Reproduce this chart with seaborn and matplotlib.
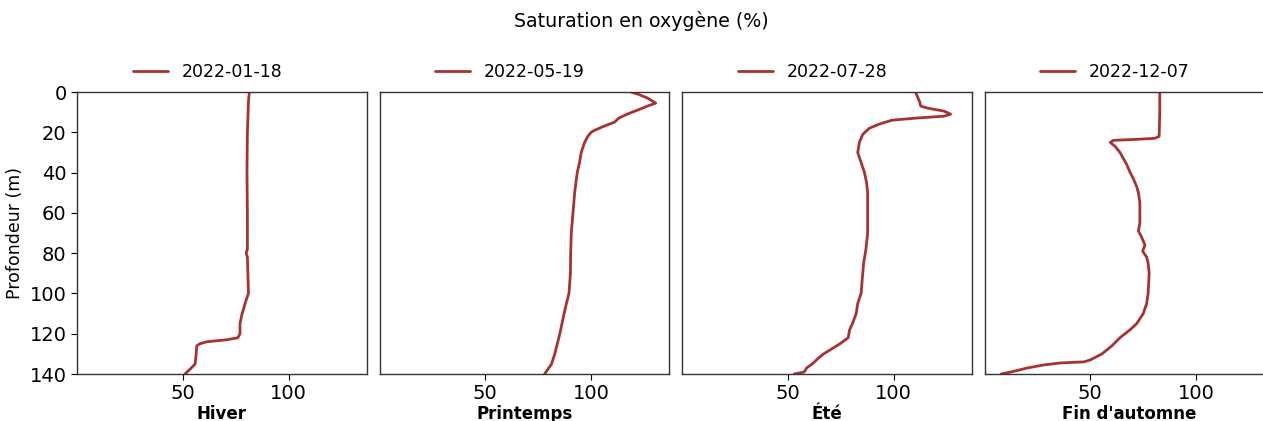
import numpy as np
import pandas as pd
import matplotlib
matplotlib.use("Agg")
import matplotlib.pyplot as plt
import seaborn as sns

seasons = ["Hiver", "Printemps", "Été", "Fin d'automne"]
dates = ["2022-01-18", "2022-05-19", "2022-07-28", "2022-12-07"]

# winter profile
depth_hiver = [0, 5, 20, 40, 60, 78, 80, 82, 100, 103, 105, 108, 110, 115, 120, 122, 123, 124, 125, 126, 130, 135, 137, 140]
sat_hiver = [81.4, 81, 80.5, 80.3, 80.5, 80.5, 79.9, 80.5, 81, 80, 79.4, 78.6, 78, 77, 77, 76, 70.8, 61.3, 58, 56.6, 56.3, 55.8, 54, 51]

# spring profile
depth_printemps = [0, 1, 3, 5.5, 7, 9, 11, 13, 15, 17, 19, 20, 22, 25, 30, 35, 40, 50, 60, 70, 80, 90, 100, 105, 110, 120, 125, 130, 135, 140]
sat_printemps = [118.8, 121.9, 126.6, 130.5, 126.6, 121.9, 117, 113, 111, 106, 101.6, 100, 98.4, 96.9, 95.3, 94.5, 93.4, 92.2, 91.4, 90.6, 90.3, 90.2, 89.5, 88.3, 87.2, 85.2, 84, 82.8, 81.3, 78]

# summer profile
depth_ete = [0, 5, 7, 8, 9.5, 11, 12, 13, 14, 16, 18, 21, 25, 30, 35, 40, 45, 50, 60, 70, 78, 85, 90, 100, 105, 110, 115, 118, 122, 125, 128, 130, 132, 135, 137, 139, 140]
sat_ete = [110.3, 112.3, 112.8, 116, 123.8, 126.9, 123.8, 110, 99.2, 93, 88.5, 85.4, 83.8, 83, 84.6, 86.2, 87.2, 87.7, 87.7, 87.7, 86.9, 85.8, 85.4, 84.6, 83, 82.3, 80.5, 79.2, 78.5, 74.6, 70, 66.9, 64.6, 61.5, 58.9, 57.7, 53]

# late autumn profile
depth_automne = [0, 10, 22, 23, 23.5, 24, 25, 27, 30, 33, 36, 40, 43, 47, 50, 55, 60, 65, 69, 72, 76, 79, 82, 85, 90, 100, 105, 110, 115, 118, 122, 126, 130, 133, 134, 134.5, 135.5, 137, 139, 140]
sat_automne = [82.8, 82.8, 82.5, 80.5, 71.9, 60.9, 59.4, 61.7, 64, 65.6, 67.2, 68.8, 70.3, 71.9, 72.7, 73.4, 73.4, 73.4, 72.7, 74.2, 75.8, 74.7, 76.6, 77.3, 77.8, 77.3, 76.6, 75, 71.9, 68.8, 64, 60.2, 55.5, 50, 46.9, 35.9, 28, 20.3, 12.5, 7.8]

profiles = [
    (depth_hiver, sat_hiver),
    (depth_printemps, sat_printemps),
    (depth_ete, sat_ete),
    (depth_automne, sat_automne),
]

sns.set_style("white")
plt.rcParams['font.family'] = ['DejaVu Sans']
plt.rcParams['text.color'] = 'black'
plt.rcParams['axes.labelcolor'] = 'black'
plt.rcParams['xtick.color'] = 'black'
plt.rcParams['ytick.color'] = 'black'

fig = plt.figure(figsize=(12.63, 4.21), dpi=100)
left0 = 77 / 1263
w = 290 / 1263
gap = 12.5 / 1263
bottom = 1 - 374 / 421
h = (374 - 92) / 421

for i, (season, date, (d, s)) in enumerate(zip(seasons, dates, profiles)):
    ax = fig.add_axes([left0 + i * (w + gap), bottom, w, h])
    df = pd.DataFrame({"depth": d, "sat": s})
    sns.lineplot(data=df, x="sat", y="depth", orient="y", sort=False, estimator=None,
                 color="#a83232", linewidth=2, label=date, ax=ax)
    ax.set_ylim(140, 0)
    ax.set_xlim(0, 137)
    ax.set_xticks([50, 100])
    ax.set_yticks(np.arange(0, 141, 20))
    ax.tick_params(axis="both", labelsize=14, length=4, width=0.8, bottom=True, left=True)
    ax.set_xlabel(season, fontsize=12, fontweight="bold", labelpad=1)
    if i == 0:
        ax.set_ylabel("Profondeur (m)", fontsize=12.5)
    else:
        ax.set_ylabel("")
        ax.set_yticklabels([])
        ax.tick_params(axis="y", left=False)
    for sp in ax.spines.values():
        sp.set_color("#333333")
        sp.set_linewidth(1)
    ax.legend(loc="lower center", bbox_to_anchor=(0.45, 0.985), frameon=False, fontsize=12.5,
              handlelength=2.0)

fig.suptitle("Saturation en oxygène (%)", fontsize=13.7, x=0.508, y=0.975)
fig.savefig("out.png", dpi=100)
